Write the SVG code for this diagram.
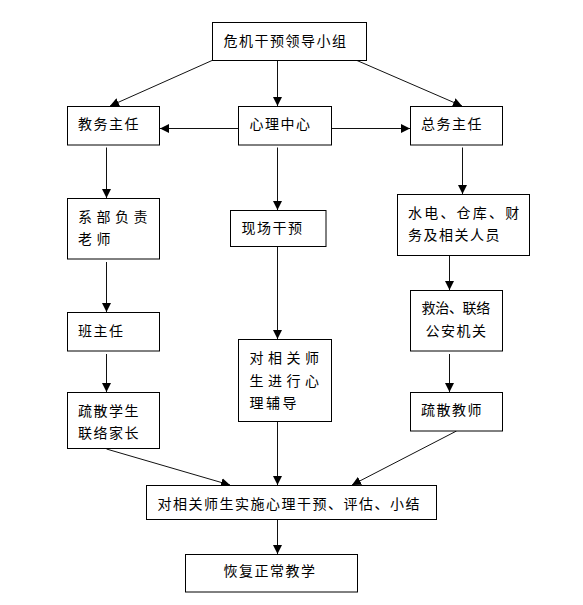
<svg xmlns="http://www.w3.org/2000/svg" width="583" height="605" viewBox="0 0 583 605">
<style>
.box{fill:#fff;stroke:#000;stroke-width:1}
.t{font-family:"Noto Sans CJK SC","Liberation Sans",sans-serif;font-size:14px;fill:#000;letter-spacing:1.5px}
.w{letter-spacing:4.5px}
.n{letter-spacing:-0.3px}
.c line{stroke:#111;stroke-width:1;marker-end:url(#ah)}
</style>
<defs>
<marker id="ah" markerUnits="userSpaceOnUse" markerWidth="9" markerHeight="9" refX="9" refY="4.5" orient="auto">
<path d="M0,0 L9,4.5 L0,9 z" fill="#000"/>
</marker>
</defs>
<rect width="583" height="605" fill="#fff"/>
<g id="connectors" class="c">
<line x1="212" y1="60.5" x2="110" y2="106"/>
<line x1="277.5" y1="60.5" x2="277.5" y2="106"/>
<line x1="357" y1="60.5" x2="462" y2="106"/>
<line x1="238.5" y1="128.5" x2="160" y2="128.5"/>
<line x1="331.5" y1="128.5" x2="410" y2="128.5"/>
<line x1="106.5" y1="147.5" x2="106.5" y2="198"/>
<line x1="277.5" y1="147.5" x2="277.5" y2="210"/>
<line x1="462.5" y1="147.5" x2="462.5" y2="194"/>
<line x1="106.5" y1="262" x2="106.5" y2="312"/>
<line x1="277.5" y1="246.5" x2="277.5" y2="339"/>
<line x1="449.5" y1="255.5" x2="449.5" y2="290"/>
<line x1="106.5" y1="354" x2="106.5" y2="392"/>
<line x1="449.5" y1="354" x2="449.5" y2="392"/>
<line x1="106.5" y1="449" x2="230" y2="485"/>
<line x1="277.5" y1="421.5" x2="277.5" y2="485"/>
<line x1="456.5" y1="431" x2="352" y2="485"/>
<line x1="277.5" y1="519.5" x2="277.5" y2="554"/>
</g>
<g id="n-top"><rect class="box" x="212.5" y="22.5" width="154" height="38"/><text class="t" x="223.5" y="45.5">危机干预领导小组</text></g>
<g id="n-jiaowu"><rect class="box" x="67.5" y="106.5" width="92" height="38.5"/><text class="t" x="78" y="129">教务主任</text></g>
<g id="n-xinli"><rect class="box" x="238.5" y="106.5" width="93" height="38.5"/><text class="t" x="249.5" y="129">心理中心</text></g>
<g id="n-zongwu"><rect class="box" x="410.5" y="106.5" width="92" height="38.5"/><text class="t" x="421" y="129">总务主任</text></g>
<g id="n-xibu"><rect class="box" x="67.5" y="198.5" width="92" height="60.5"/><text class="t w" x="78" y="222">系部负责</text><text class="t w" x="78" y="244">老师</text></g>
<g id="n-xianchang"><rect class="box" x="230.5" y="210.5" width="95.5" height="36"/><text class="t" x="241.5" y="233">现场干预</text></g>
<g id="n-shuidian"><rect class="box" x="397.5" y="194.5" width="132" height="61"/><text class="t" x="408" y="218" style="letter-spacing:2.2px">水电、仓库、财</text><text class="t" x="408" y="240">务及相关人员</text></g>
<g id="n-banzhuren"><rect class="box" x="67.5" y="312.5" width="92" height="38.5"/><text class="t" x="78" y="336">班主任</text></g>
<g id="n-fudao"><rect class="box" x="238.5" y="339.5" width="93" height="82"/><text class="t w" x="249.5" y="362.5">对相关师</text><text class="t w" x="249.5" y="386">生进行心</text><text class="t" x="249.5" y="408" style="letter-spacing:2.5px">理辅导</text></g>
<g id="n-jiuzhi"><rect class="box" x="410.5" y="290.5" width="92" height="60.5"/><text class="t n" x="421.5" y="313">救治、联络</text><text class="t" x="425.5" y="336">公安机关</text></g>
<g id="n-shusan-xs"><rect class="box" x="67.5" y="392.5" width="92" height="56"/><text class="t" x="78" y="416">疏散学生</text><text class="t" x="78" y="438">联络家长</text></g>
<g id="n-shusan-js"><rect class="box" x="410.5" y="392.5" width="92" height="38.5"/><text class="t" x="421" y="415">疏散教师</text></g>
<g id="n-shishi"><rect class="box" x="146.5" y="485.5" width="290" height="34"/><text class="t" x="157.5" y="508.5">对相关师生实施心理干预、评估、小结</text></g>
<g id="n-huifu"><rect class="box" x="185.5" y="554.5" width="172" height="37.5"/><text class="t" x="223.5" y="576">恢复正常教学</text></g>
</svg>
